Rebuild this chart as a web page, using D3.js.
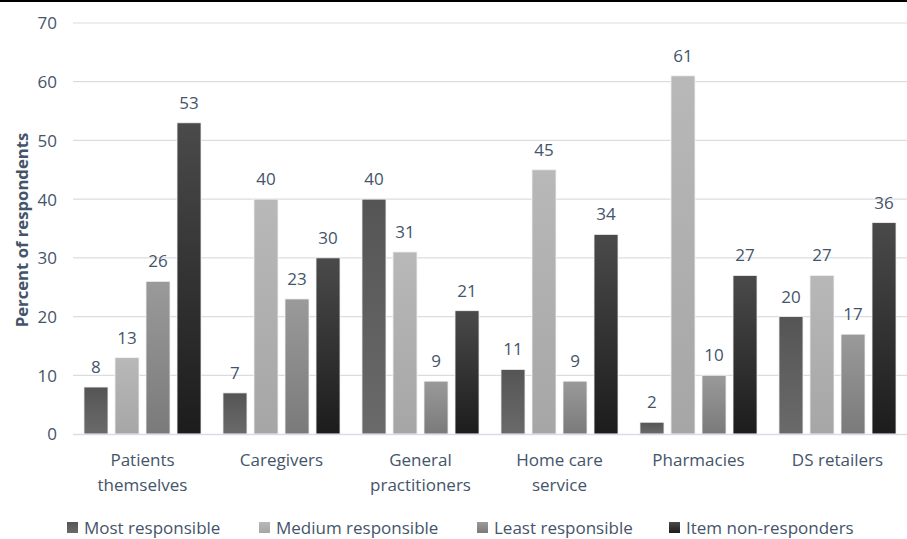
<!DOCTYPE html>
<html>
<head>
<meta charset="utf-8">
<script src="https://cdn.jsdelivr.net/npm/d3@7"></script>
<style>
body{margin:0;background:#fff;}
text{font-family:"Open Sans",sans-serif;fill:#44546a;}
</style>
</head>
<body>
<div id="chart"></div>
<script>
var categories=[["Patients","themselves"],["Caregivers"],["General","practitioners"],["Home care","service"],["Pharmacies"],["DS retailers"]];
var seriesNames=["Most responsible","Medium responsible","Least responsible","Item non-responders"];
var mostResp=[8,7,40,11,2,20];
var mediumResp=[13,40,31,45,61,27];
var leastResp=[26,23,9,9,10,17];
var nonResp=[53,30,21,34,27,36];
var yTicks=[0,10,20,30,40,50,60,70];

var allSeries=[mostResp,mediumResp,leastResp,nonResp];
// gradient colours, top then bottom
var grads=[["#555555","#6a6a6a"],["#b8b8b8","#a6a6a6"],["#9a9a9a","#7a7a7a"],["#4a4a4a","#1c1c1c"]];

var width=907, height=539;
var plotL=73, plotR=907, plotT=23, plotB=434; // "top" is reserved on window

var svg=d3.select("#chart").append("svg").attr("width",width).attr("height",height);
var defs=svg.append("defs");
grads.forEach(function(g,i){
	var lg=defs.append("linearGradient").attr("id","g"+i).attr("x1",0).attr("y1",0).attr("x2",0).attr("y2",1);
	lg.append("stop").attr("offset","0%").attr("stop-color",g[0]);
	lg.append("stop").attr("offset","100%").attr("stop-color",g[1]);
});

// black rule across the top
svg.append("rect").attr("x",0).attr("y",0).attr("width",width).attr("height",2).attr("fill","#000");

var y=d3.scaleLinear().domain([0,70]).range([plotB,plotT]);
var x0=d3.scaleBand().domain(d3.range(categories.length)).range([plotL,plotR]).paddingInner(0.158).paddingOuter(0.079);
var x1=d3.scaleBand().domain(d3.range(4)).range([0,x0.bandwidth()]).paddingInner(0.226);

// gridlines
svg.append("g").selectAll("line").data(yTicks.slice(1)).enter().append("line")
	.attr("x1",plotL).attr("x2",plotR).attr("y1",function(d){return y(d);}).attr("y2",function(d){return y(d);})
	.attr("stroke","#d9dde3").attr("stroke-width",1.2);

var yAxis=svg.append("g").attr("transform","translate("+(plotL-16)+",0)")
	.call(d3.axisLeft(y).tickValues(yTicks).tickSize(0).tickPadding(0));
yAxis.select(".domain").remove();
yAxis.selectAll("text").style("font-size","17px").style("font-family","'Open Sans',sans-serif").attr("fill","#44546a").attr("dy","0.35em");

svg.append("text").attr("transform","translate(28,230) rotate(-90)").attr("text-anchor","middle")
	.style("font-size","16.7px").style("font-weight","bold").text("Percent of respondents");

var groups=svg.append("g").selectAll("g").data(categories).enter().append("g")
	.attr("transform",function(d,i){return "translate("+x0(i)+",0)";});

groups.each(function(c,ci){
	var g=d3.select(this);
	allSeries.forEach(function(s,si){
		var v=s[ci];
		g.append("rect").attr("x",x1(si)).attr("y",y(v)).attr("width",x1.bandwidth()).attr("height",y(0)-y(v))
			.attr("fill","url(#g"+si+")").attr("stroke","#f2f2f2").attr("stroke-width",0.8);
		g.append("text").attr("x",x1(si)+x1.bandwidth()/2).attr("y",y(v)-14).attr("text-anchor","middle")
			.style("font-size","17px").text(v);
	});
});

// axis baseline
svg.append("line").attr("x1",plotL).attr("x2",plotR).attr("y1",plotB+0.5).attr("y2",plotB+0.5)
	.attr("stroke","#d9dde3").attr("stroke-width",1.5);

// category labels
groups.each(function(c,ci){
	var t=d3.select(this).append("text").attr("text-anchor","middle").style("font-size","17px");
	c.forEach(function(line,li){
		t.append("tspan").attr("x",x0.bandwidth()/2).attr("y",466+li*25).text(line);
	});
});

// legend
var legX=[67,259,477,669];
var leg=svg.append("g").selectAll("g").data(seriesNames).enter().append("g")
	.attr("transform",function(d,i){return "translate("+legX[i]+",522)";});
leg.append("rect").attr("width",11).attr("height",11).attr("fill",function(d,i){return "url(#g"+i+")";});
leg.append("text").attr("x",17).attr("y",11.5).style("font-size","17px").text(function(d){return d;});
</script>
</body>
</html>
